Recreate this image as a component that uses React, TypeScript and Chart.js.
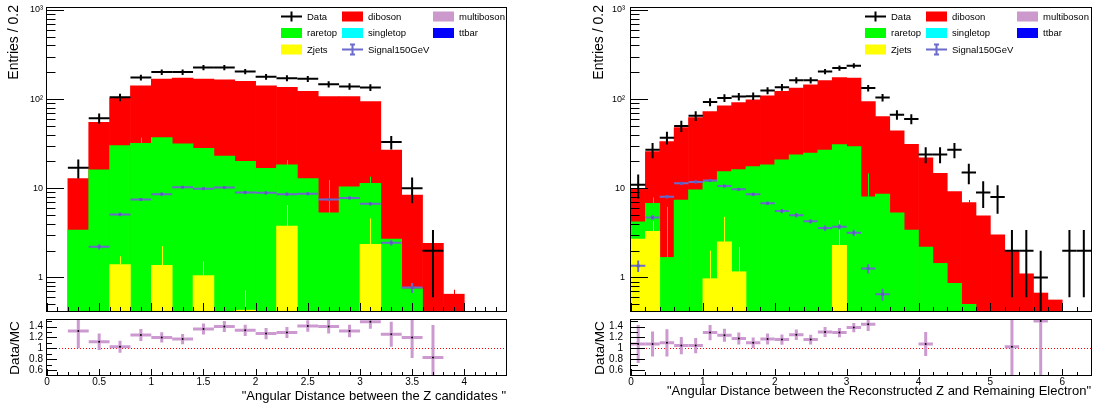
import React, { useEffect, useRef } from 'react';
import { Chart, registerables } from 'chart.js';
Chart.register(...registerables);

const W = 1108;
const H = 410;
const FONT = '"Liberation Sans", Arial, Helvetica, sans-serif';
const BIN_HALF = 0.1; // bins of width 0.2 ("Entries / 0.2")

// ---------------- Left panel: Angular distance between the Z candidates ----------------
const leftBinCenters = [0.1, 0.3, 0.5, 0.7, 0.9, 1.1, 1.3, 1.5, 1.7, 1.9, 2.1, 2.3, 2.5, 2.7, 2.9, 3.1, 3.3, 3.5, 3.7, 3.9, 4.1, 4.3];
// stacked histogram tops (diboson on top of raretop on top of Zjets)
const leftDibosonStack = [null, 12.9, 55, 102, 141, 168, 172, 168, 165, 158, 141, 136, 122, 107, 107, 94, 26.9, 8.4, 2.41, 0.65, null, null];
const leftRaretopStack = [null, 3.4, 16.1, 30.1, 32, 37, 31.5, 28.1, 23, 20.1, 16.8, 18.3, 12.9, 5.3, 10.4, 11.4, 2.7, 0.75, null, null, null, null];
const leftZjetsStack = [null, null, null, 1.4, null, 1.37, null, 1.05, null, 0.43, null, 3.77, null, null, null, 2.35, null, null, null, null, null, null];
// upper ends of the MC statistical error lines
const leftDibosonErrTop = [null, null, null, null, null, null, null, null, null, null, null, null, null, null, null, null, null, null, null, 0.73, null, null];
const leftRaretopErrTop = [null, null, null, null, 37, null, null, null, null, null, null, 20.8, null, 12.4, null, 13.5, null, null, null, null, null, null];
const leftZjetsErrTop = [null, null, null, 1.73, null, 2.25, null, 1.52, null, 0.72, null, 6.5, null, null, null, 4.6, null, null, null, null, null, null];
const leftData = [null, 17, 61, 105, 175, 201, 201, 226, 226, 204, 178, 172, 169, 147, 139, 135, 33, 10, 2, null, null, null];
const leftDataErr = [null, 4.1, 7.8, 10.2, 13.2, 14.2, 14.2, 15, 15, 14.3, 13.3, 13.1, 13, 12.1, 11.8, 11.6, 5.7, 3.2, 1.4, null, null, null];
const leftSignal = [null, null, 2.21, 5.1, 7.5, 8.6, 10.3, 9.9, 10.2, 9.0, 8.9, 8.6, 8.7, 7.5, 7.8, 6.7, 2.45, 0.77, null, null, null, null];
const leftSignalErr = [null, null, 0.15, 0.25, 0.3, 0.35, 0.35, 0.35, 0.35, 0.35, 0.35, 0.35, 0.35, 0.3, 0.3, 0.3, 0.18, 0.1, null, null, null, null];
const leftRatio = [null, 1.32, 1.12, 1.03, 1.245, 1.2, 1.17, 1.355, 1.4, 1.33, 1.27, 1.29, 1.41, 1.4, 1.32, 1.49, 1.26, 1.2, 0.83, null, null, null];
const leftRatioErr = [null, 0.32, 0.15, 0.11, 0.11, 0.095, 0.095, 0.1, 0.1, 0.105, 0.105, 0.1, 0.105, 0.13, 0.115, 0.13, 0.23, 0.38, 0.6, null, null, null];
const leftXTickValues = [0, 0.5, 1, 1.5, 2, 2.5, 3, 3.5, 4];
const leftXTickLabels = ['0', '0.5', '1', '1.5', '2', '2.5', '3', '3.5', '4'];
const leftXTitle = '"Angular Distance between the Z candidates "';

// ---------------- Right panel: Reconstructed Z vs remaining electron ----------------
const rightBinCenters = [0.1, 0.3, 0.5, 0.7, 0.9, 1.1, 1.3, 1.5, 1.7, 1.9, 2.1, 2.3, 2.5, 2.7, 2.9, 3.1, 3.3, 3.5, 3.7, 3.9, 4.1, 4.3, 4.5, 4.7, 4.9, 5.1, 5.3, 5.5, 5.7, 5.9, 6.1, 6.3];
const rightDibosonStack = [10.0, 25.8, 33.4, 48, 62, 72.6, 84, 91.5, 98, 109, 122, 133, 145, 161, 174, 172, 94, 63.8, 44, 31.2, 22, 14.7, 9.2, 6.9, 4.9, 3.0, 1.95, 1.1, 0.67, 0.56, null, null];
const rightRaretopStack = [4.2, 6.8, 1.68, 7.4, 9.6, 11.9, 15.4, 16.2, 17.5, 18.3, 20.8, 23.7, 24.8, 26.9, 31, 29.3, 8.05, 8.6, 5.3, 3.4, 2.2, 1.44, 0.86, 0.5, null, null, null, null, null, null, null, null];
const rightZjetsStack = [2.7, 3.3, null, null, null, 0.97, 2.51, 1.16, null, null, null, null, null, null, 2.3, null, null, null, null, null, null, null, null, null, null, null, null, null, null, null, null, null];
const rightDibosonErrTop = [null, null, null, null, null, null, null, null, null, null, null, null, null, null, null, null, null, null, null, null, null, null, null, 7.4, null, null, null, 1.3, null, null, null, null];
const rightRaretopErrTop = [null, 7.9, 6.2, null, null, null, null, null, null, null, null, null, null, null, null, null, 14.7, null, null, null, null, null, null, null, null, null, null, null, null, null, null, null];
const rightZjetsErrTop = [null, 4.3, null, null, null, 2.0, 4.8, 2.2, null, null, null, null, null, null, 4.4, null, null, null, null, null, null, null, null, null, null, null, null, null, null, null, null, null];
const rightData = [11, 27, 37, 50, 65, 93, 103, 107, 108, 125, 136, 163, 163, 204, 223, 237, 133, 104, 67, 60, 24, 24, 27, 15, 9, 8, 2, 2, 1, null, 2, 2];
const rightDataErr = [3.3, 5.2, 6.1, 7.1, 8.1, 9.6, 10.1, 10.3, 10.4, 11.2, 11.7, 12.8, 12.8, 14.3, 14.9, 15.4, 11.5, 10.2, 8.2, 7.7, 4.9, 4.9, 5.2, 3.9, 3, 2.8, 1.4, 1.4, 1, null, 1.4, 1.4];
const rightSignal = [1.35, 4.72, 8.05, 11.4, 11.8, 12.2, 10.6, 9.75, 8.57, 6.8, 5.55, 5.0, 4.26, 3.58, 3.7, 3.17, 1.26, 0.65, null, null, null, null, null, null, null, null, null, null, null, null, null, null];
const rightSignalErr = [0.2, 0.3, 0.35, 0.4, 0.4, 0.4, 0.4, 0.35, 0.35, 0.3, 0.3, 0.3, 0.25, 0.25, 0.25, 0.25, 0.15, 0.1, null, null, null, null, null, null, null, null, null, null, null, null, null, null];
const rightRatio = [1.08, 1.08, 1.1, 1.05, 1.05, 1.29, 1.24, 1.18, 1.1, 1.17, 1.16, 1.25, 1.16, 1.3, 1.29, 1.38, 1.44, null, null, null, 1.08, null, null, null, null, null, 1.03, null, 1.5, null, null, null];
const rightRatioErr = [0.35, 0.23, 0.25, 0.16, 0.14, 0.14, 0.12, 0.11, 0.1, 0.1, 0.095, 0.095, 0.09, 0.09, 0.085, 0.085, 0.12, null, null, null, 0.22, null, null, null, null, null, 0.72, null, 1.5, null, null, null];
const rightXTickValues = [0, 1, 2, 3, 4, 5, 6];
const rightXTickLabels = ['0', '1', '2', '3', '4', '5', '6'];
const rightXTitle = '"Angular Distance between the Reconstructed Z and Remaining Electron"';

// ---------------- shared axis labels ----------------
const logTickValues = [1, 10, 100, 1000];
const logTickLabels = ['1', '10', '10\u00B2', '10\u00B3'];
const ratioTickValues = [0.6, 0.8, 1, 1.2, 1.4];
const ratioTickLabels = ['0.6', '0.8', '1', '1.2', '1.4'];
const yTitleTop = 'Entries / 0.2';
const yTitleRatio = 'Data/MC';

const legendEntries = [
  { label: 'Data', kind: 'err', color: '#000000', col: 0, row: 0 },
  { label: 'diboson', kind: 'box', color: '#ff0000', col: 1, row: 0 },
  { label: 'multiboson', kind: 'box', color: '#cc99cc', col: 2, row: 0 },
  { label: 'raretop', kind: 'box', color: '#00ff00', col: 0, row: 1 },
  { label: 'singletop', kind: 'box', color: '#00ffff', col: 1, row: 1 },
  { label: 'ttbar', kind: 'box', color: '#0000ff', col: 2, row: 1 },
  { label: 'Zjets', kind: 'box', color: '#ffff00', col: 0, row: 2 },
  { label: 'Signal150GeV', kind: 'sig', color: '#6b6bcc', col: 1, row: 2 },
];

const SIGNAL_COLOR = '#6b6bcc';
const RATIO_COLOR = '#cc9ad0';
const RED = '#ff0000', GREEN = '#00ff00', YELLOW = '#ffff00';

const TOP_T = 8, TOP_B = 311, RAT_T = 320, RAT_B = 375;
const LOG_MIN = 0.421, LOG_MAX = 1052;
const RAT_MIN = 0.51, RAT_MAX = 1.52;

type Panel = {
  l: number; r: number; xMax: number; xMajor: number; xMinor: number;
  centers: number[]; diboson: any[]; raretop: any[]; zjets: any[];
  dibosonErrTop: any[]; raretopErrTop: any[]; zjetsErrTop: any[];
  data: any[]; dataErr: any[]; signal: any[]; signalErr: any[];
  ratio: any[]; ratioErr: any[];
  xTickValues: number[]; xTickLabels: string[]; xTitle: string; xTitleBase: number;
  yTitleBase: number; yTitleEnd: number; ratioTitleBase: number;
  logLabelRight: number; ratioLabelRight: number; ratioMajor: number; ratioMinor: number;
  legendX: number;
};

const panels: Panel[] = [
  {
    l: 47, r: 506, xMax: 4.4, xMajor: 0.5, xMinor: 0.1,
    centers: leftBinCenters, diboson: leftDibosonStack, raretop: leftRaretopStack, zjets: leftZjetsStack,
    dibosonErrTop: leftDibosonErrTop, raretopErrTop: leftRaretopErrTop, zjetsErrTop: leftZjetsErrTop,
    data: leftData, dataErr: leftDataErr, signal: leftSignal, signalErr: leftSignalErr,
    ratio: leftRatio, ratioErr: leftRatioErr,
    xTickValues: leftXTickValues, xTickLabels: leftXTickLabels, xTitle: leftXTitle, xTitleBase: 400,
    yTitleBase: 18, yTitleEnd: 5, ratioTitleBase: 18.5,
    logLabelRight: 43, ratioLabelRight: 43, ratioMajor: 10, ratioMinor: 5, legendX: 281,
  },
  {
    l: 631, r: 1091, xMax: 6.4, xMajor: 1, xMinor: 0.2,
    centers: rightBinCenters, diboson: rightDibosonStack, raretop: rightRaretopStack, zjets: rightZjetsStack,
    dibosonErrTop: rightDibosonErrTop, raretopErrTop: rightRaretopErrTop, zjetsErrTop: rightZjetsErrTop,
    data: rightData, dataErr: rightDataErr, signal: rightSignal, signalErr: rightSignalErr,
    ratio: rightRatio, ratioErr: rightRatioErr,
    xTickValues: rightXTickValues, xTickLabels: rightXTickLabels, xTitle: rightXTitle, xTitleBase: 395,
    yTitleBase: 602.5, yTitleEnd: 5, ratioTitleBase: 603.5,
    logLabelRight: 625, ratioLabelRight: 623, ratioMajor: 14, ratioMinor: 7, legendX: 865,
  },
];

function toPoints(xs: number[], ys: any[]) {
  return xs.map((x, i) => ({ x, y: ys[i] == null ? null : ys[i] }));
}
function toScatter(xs: number[], ys: any[]) {
  return xs.map((x, i) => (ys[i] == null ? null : { x, y: ys[i] })).filter(Boolean);
}

function clipArea(ctx: any, a: any) {
  ctx.beginPath();
  ctx.rect(a.left, a.top, a.right - a.left, a.bottom - a.top);
  ctx.clip();
}

function drawErrorCrosses(chart: any, xs: number[], ys: any[], es: any[], color: string, lw: number, logY: boolean) {
  const ctx = chart.ctx;
  const xS = chart.scales.x, yS = chart.scales.y;
  const a = chart.chartArea;
  ctx.save();
  clipArea(ctx, a);
  ctx.strokeStyle = color;
  ctx.lineWidth = lw;
  ctx.lineCap = 'butt';
  for (let i = 0; i < xs.length; i++) {
    const v = ys[i];
    if (v == null) continue;
    const e = es[i] == null ? 0 : es[i];
    const x0 = xS.getPixelForValue(xs[i] - BIN_HALF);
    const x1 = xS.getPixelForValue(xs[i] + BIN_HALF);
    const xc = xS.getPixelForValue(xs[i]);
    const yc = yS.getPixelForValue(v);
    const yt = yS.getPixelForValue(v + e);
    const lo = v - e;
    const yb = logY && lo <= 0 ? a.bottom + 20 : yS.getPixelForValue(lo);
    ctx.beginPath();
    ctx.moveTo(x0, yc);
    ctx.lineTo(x1, yc);
    ctx.moveTo(xc, yt);
    ctx.lineTo(xc, yb);
    ctx.stroke();
  }
  ctx.restore();
}

// thin statistical error line of a stacked MC histogram, drawn from the bar top upward
function drawStackErr(chart: any, xs: number[], tops: any[], errTops: any[], color: string) {
  const ctx = chart.ctx;
  const xS = chart.scales.x, yS = chart.scales.y;
  ctx.save();
  clipArea(ctx, chart.chartArea);
  ctx.strokeStyle = color;
  ctx.lineWidth = 1;
  ctx.beginPath();
  for (let i = 0; i < xs.length; i++) {
    if (errTops[i] == null || tops[i] == null) continue;
    const xc = Math.round(xS.getPixelForValue(xs[i])) + 0.5;
    ctx.moveTo(xc, yS.getPixelForValue(tops[i]));
    ctx.lineTo(xc, yS.getPixelForValue(errTops[i]));
  }
  ctx.stroke();
  ctx.restore();
}

function drawFrame(ctx: any, a: any) {
  ctx.save();
  ctx.strokeStyle = '#000';
  ctx.lineWidth = 1;
  ctx.strokeRect(Math.round(a.left) - 0.5, Math.round(a.top) - 0.5, Math.round(a.right - a.left) + 1, Math.round(a.bottom - a.top) + 1);
  ctx.restore();
}

function drawXTicks(ctx: any, chart: any, p: Panel, majorLen: number, minorLen: number) {
  const xS = chart.scales.x;
  const a = chart.chartArea;
  ctx.save();
  ctx.strokeStyle = '#000';
  ctx.lineWidth = 1;
  ctx.beginPath();
  const n = Math.round(p.xMax / p.xMinor);
  const per = Math.round(p.xMajor / p.xMinor);
  for (let k = 0; k <= n; k++) {
    const v = k * p.xMinor;
    const px = Math.round(xS.getPixelForValue(v)) + 0.5;
    const len = k % per === 0 ? majorLen : minorLen;
    ctx.moveTo(px, a.bottom);
    ctx.lineTo(px, a.bottom - len);
  }
  ctx.stroke();
  ctx.restore();
}

function drawRotated(ctx: any, text: string, x: number, y: number, align: string, font: string) {
  ctx.save();
  ctx.translate(x, y);
  ctx.rotate(-Math.PI / 2);
  ctx.font = font;
  ctx.fillStyle = '#000';
  ctx.textAlign = align;
  ctx.textBaseline = 'alphabetic';
  ctx.fillText(text, 0, 0);
  ctx.restore();
}

function drawLegend(ctx: any, x0: number) {
  const colX = [x0, x0 + 61, x0 + 152];
  const rowY = [16.5, 33, 49.5];
  ctx.save();
  ctx.font = `9.5px ${FONT}`;
  ctx.textBaseline = 'middle';
  ctx.textAlign = 'left';
  for (const e of legendEntries) {
    const x = colX[e.col];
    const y = rowY[e.row];
    if (e.kind === 'box') {
      ctx.fillStyle = e.color;
      ctx.fillRect(x, y - 5, 21, 10);
    } else {
      ctx.strokeStyle = e.color;
      ctx.lineWidth = 2;
      ctx.beginPath();
      ctx.moveTo(x, y);
      ctx.lineTo(x + 21, y);
      ctx.moveTo(x + 10.5, y - 5);
      ctx.lineTo(x + 10.5, y + 5);
      if (e.kind === 'sig') {
        ctx.moveTo(x + 8, y - 5);
        ctx.lineTo(x + 13, y - 5);
        ctx.moveTo(x + 8, y + 5);
        ctx.lineTo(x + 13, y + 5);
      }
      ctx.stroke();
    }
    ctx.fillStyle = '#000';
    ctx.fillText(e.label, x + 26, y + 0.5);
  }
  ctx.restore();
}

function topConfig(p: Panel): any {
  const plugin = {
    id: 'rootTop',
    afterDatasetDraw(chart: any, args: any) {
      if (args.index === 4) drawStackErr(chart, p.centers, p.diboson, p.dibosonErrTop, RED);
      if (args.index === 3) drawStackErr(chart, p.centers, p.raretop, p.raretopErrTop, GREEN);
      if (args.index === 2) {
        drawStackErr(chart, p.centers, p.zjets, p.zjetsErrTop, YELLOW);
        drawErrorCrosses(chart, p.centers, p.signal, p.signalErr, SIGNAL_COLOR, 2, true);
        drawErrorCrosses(chart, p.centers, p.data, p.dataErr, '#000', 2, true);
      }
    },
    afterDraw(chart: any) {
      const ctx = chart.ctx;
      const a = chart.chartArea;
      const yS = chart.scales.y;
      drawFrame(ctx, a);
      ctx.save();
      ctx.strokeStyle = '#000';
      ctx.lineWidth = 1;
      ctx.beginPath();
      for (let d = -1; d <= 3; d++) {
        for (let m = 1; m <= 9; m++) {
          const v = m * Math.pow(10, d);
          if (v < LOG_MIN || v > LOG_MAX) continue;
          const py = Math.round(yS.getPixelForValue(v)) + 0.5;
          ctx.moveTo(a.left, py);
          ctx.lineTo(a.left + (m === 1 ? 17 : 8.5), py);
        }
      }
      ctx.stroke();
      ctx.restore();
      drawXTicks(ctx, chart, p, 8, 4);
      ctx.save();
      ctx.font = `9px ${FONT}`;
      ctx.fillStyle = '#000';
      ctx.textAlign = 'right';
      ctx.textBaseline = 'middle';
      logTickValues.forEach((v, i) => {
        ctx.fillText(logTickLabels[i], p.logLabelRight, yS.getPixelForValue(v));
      });
      ctx.restore();
      drawRotated(ctx, yTitleTop, p.yTitleBase, p.yTitleEnd, 'right', `14px ${FONT}`);
      drawLegend(ctx, p.legendX);
    },
  };
  return {
    type: 'bar',
    data: {
      datasets: [
        { type: 'scatter', label: 'Signal150GeV', data: toScatter(p.centers, p.signal), pointStyle: 'rect', pointRadius: 2, backgroundColor: '#5d5dc0', borderWidth: 0 },
        { type: 'scatter', label: 'Data', data: toScatter(p.centers, p.data), pointRadius: 0, backgroundColor: '#000', borderWidth: 0 },
        { label: 'Zjets', data: toPoints(p.centers, p.zjets), backgroundColor: YELLOW },
        { label: 'raretop', data: toPoints(p.centers, p.raretop), backgroundColor: GREEN },
        { label: 'diboson', data: toPoints(p.centers, p.diboson), backgroundColor: RED },
      ],
    },
    options: {
      animation: false,
      responsive: false,
      devicePixelRatio: 1,
      events: [],
      layout: { padding: { left: p.l, right: W - p.r, top: TOP_T, bottom: H - TOP_B } },
      plugins: { legend: { display: false }, tooltip: { enabled: false }, title: { display: false } },
      datasets: { bar: { grouped: false, barPercentage: 1, categoryPercentage: 1, borderWidth: 0 } },
      scales: {
        x: { type: 'linear', min: 0, max: p.xMax, offset: false, display: false, grid: { offset: false }, ticks: { stepSize: p.xMajor } },
        y: { type: 'logarithmic', min: LOG_MIN, max: LOG_MAX, display: false },
      },
    },
    plugins: [plugin],
  };
}

function ratioConfig(p: Panel): any {
  const plugin = {
    id: 'rootRatio',
    beforeDatasetsDraw(chart: any) {
      const ctx = chart.ctx;
      const a = chart.chartArea;
      const yS = chart.scales.y;
      const y1 = Math.round(yS.getPixelForValue(1)) + 0.5;
      ctx.save();
      ctx.strokeStyle = '#ff0000';
      ctx.lineWidth = 1;
      ctx.setLineDash([1, 2]);
      ctx.beginPath();
      ctx.moveTo(a.left, y1);
      ctx.lineTo(a.right, y1);
      ctx.stroke();
      ctx.restore();
      drawErrorCrosses(chart, p.centers, p.ratio, p.ratioErr, RATIO_COLOR, 3, false);
    },
    afterDraw(chart: any) {
      const ctx = chart.ctx;
      const a = chart.chartArea;
      const xS = chart.scales.x;
      const yS = chart.scales.y;
      drawFrame(ctx, a);
      ctx.save();
      ctx.strokeStyle = '#000';
      ctx.lineWidth = 1;
      ctx.beginPath();
      for (let k = 5; k <= 15; k++) {
        const v = k / 10;
        const py = Math.round(yS.getPixelForValue(v)) + 0.5;
        if (py < a.top || py > a.bottom) continue;
        ctx.moveTo(a.left, py);
        ctx.lineTo(a.left + (k % 2 === 0 ? p.ratioMajor : p.ratioMinor), py);
      }
      ctx.stroke();
      ctx.restore();
      drawXTicks(ctx, chart, p, 6, 3);
      ctx.save();
      ctx.font = `10px ${FONT}`;
      ctx.fillStyle = '#000';
      ctx.textAlign = 'right';
      ctx.textBaseline = 'middle';
      ratioTickValues.forEach((v, i) => ctx.fillText(ratioTickLabels[i], p.ratioLabelRight, yS.getPixelForValue(v)));
      ctx.textAlign = 'center';
      ctx.textBaseline = 'alphabetic';
      p.xTickValues.forEach((v, i) => ctx.fillText(p.xTickLabels[i], xS.getPixelForValue(v), 384.5));
      ctx.font = `13px ${FONT}`;
      ctx.textAlign = 'right';
      ctx.fillText(p.xTitle, p.r, p.xTitleBase);
      ctx.restore();
      drawRotated(ctx, yTitleRatio, p.ratioTitleBase, (RAT_T + RAT_B) / 2 + 0.5, 'center', `13.5px ${FONT}`);
    },
  };
  return {
    type: 'scatter',
    data: {
      datasets: [
        { label: 'Data/MC', data: toScatter(p.centers, p.ratio), pointRadius: 1, backgroundColor: '#000', borderWidth: 0 },
      ],
    },
    options: {
      animation: false,
      responsive: false,
      devicePixelRatio: 1,
      events: [],
      layout: { padding: { left: p.l, right: W - p.r, top: RAT_T, bottom: H - RAT_B } },
      plugins: { legend: { display: false }, tooltip: { enabled: false }, title: { display: false } },
      scales: {
        x: { type: 'linear', min: 0, max: p.xMax, offset: false, display: false },
        y: { type: 'linear', min: RAT_MIN, max: RAT_MAX, display: false },
      },
    },
    plugins: [plugin],
  };
}

function ChartLayer({ make }: { make: () => any }) {
  const ref = useRef<HTMLCanvasElement | null>(null);
  useEffect(() => {
    if (!ref.current) return;
    const chart = new Chart(ref.current, make());
    return () => chart.destroy();
  }, []);
  return (
    <canvas
      ref={ref}
      width={W}
      height={H}
      style={{ position: 'absolute', left: 0, top: 0, width: W, height: H }}
    />
  );
}

export default function App() {
  return (
    <div style={{ position: 'fixed', left: 0, top: 0, width: W, height: H, background: '#fff', overflow: 'hidden' }}>
      <ChartLayer make={() => topConfig(panels[0])} />
      <ChartLayer make={() => ratioConfig(panels[0])} />
      <ChartLayer make={() => topConfig(panels[1])} />
      <ChartLayer make={() => ratioConfig(panels[1])} />
    </div>
  );
}
